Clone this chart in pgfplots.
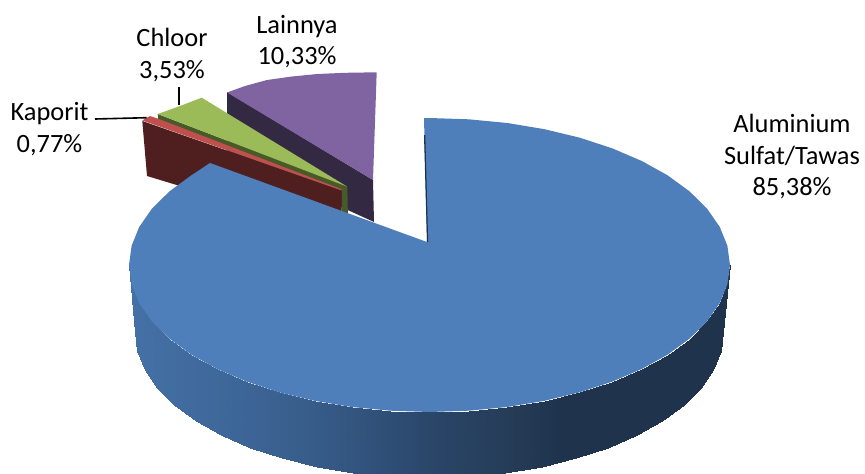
\documentclass[border=0pt]{standalone}
\usepackage{pgfplots}
\pgfplotsset{compat=1.18}
\usepackage{fontspec}
\setmainfont{Carlito}
\definecolor{blueTop}{RGB}{79,127,187}
\definecolor{blueDark}{RGB}{28,50,78}
\definecolor{redTop}{RGB}{192,80,77}
\definecolor{redSide}{RGB}{78,31,30}
\definecolor{greenTop}{RGB}{155,187,89}
\definecolor{greenSide}{RGB}{72,90,40}
\definecolor{purpleTop}{RGB}{128,100,162}
\definecolor{purpleSide}{RGB}{52,41,67}
\tikzset{lbl/.style={font=\fontsize{26.4}{31.5}\selectfont, align=center, text=black, inner sep=0pt}}
\begin{document}
\begin{tikzpicture}
\begin{axis}[
    scale only axis,
    width=865pt, height=474pt,
    xmin=0, xmax=865, ymin=0, ymax=474,
    y dir=reverse,
    axis lines=none, ticks=none,
    colormap={sidegrad}{
      rgb255(129pt)=(69,113,166);
      rgb255(200pt)=(64,106,158);
      rgb255(300pt)=(56,94,140);
      rgb255(380pt)=(48,80,120);
      rgb255(440pt)=(41,68,102);
      rgb255(500pt)=(38,62,90);
      rgb255(560pt)=(31,51,77);
      rgb255(730pt)=(31,51,77)
    },
    point meta min=129, point meta max=730,
  ]
  % Lainnya
  \addplot[fill=purpleSide, draw=none] coordinates {(227,92) (373,180) (374,222) (227,155)};
  \addplot[fill=purpleTop, draw=none] coordinates {
    (227,92.5) (245,86) (267,80) (292,76.5) (317,74) (345,72.8) (376.7,72.3) (373,180)};
  % Chloor
  \addplot[fill=greenSide, draw=none] coordinates {
    (157.7,114) (347.3,186.7) (348,220) (341.7,220) (341.7,190) (158.3,119.5)};
  \addplot[fill=greenTop, draw=none] coordinates {
    (157.7,114) (180,106) (201.7,97.7) (347.3,186.7)};
  % Kaporit
  \addplot[fill=redSide, draw=none] coordinates {(142.3,121) (341.7,190.5) (341.7,235) (147,176)};
  \addplot[fill=redTop, draw=none] coordinates {
    (142.3,120.5) (150,116) (158.3,118.8) (341.7,189.3) (341.7,190.5)};
  % Aluminium Sulfat/Tawas, side
  \addplot[surf, shader=interp, mesh/ordering=x varies, mesh/cols=25, point meta=x] table {
    x y
    129 265
    131.6 284.2
    139.2 303
    151.9 321.3
    169.3 338.5
    191.1 354.5
    217 368.9
    246.6 381.6
    279.3 392.3
    314.5 400.8
    351.7 407
    390.3 410.7
    429.5 412
    468.7 410.7
    507.3 407
    544.5 400.8
    579.8 392.3
    612.4 381.6
    642 368.9
    667.9 354.5
    689.7 338.5
    707.1 321.3
    719.8 303
    727.4 284.2
    730 265
    135 332
    137.5 351.1
    145 369.8
    157.4 387.9
    174.4 405
    195.8 420.9
    221.1 435.2
    250 447.8
    282 458.4
    316.5 466.9
    352.9 473
    390.6 476.7
    429 478
    467.4 476.7
    505.1 473
    541.5 466.9
    576 458.4
    608 447.8
    636.9 435.2
    662.2 420.9
    683.6 405
    700.6 387.9
    713 369.8
    720.5 351.1
    723 332
  };
  % Aluminium Sulfat/Tawas, top
  \addplot[fill=blueTop, draw=none] coordinates {
    (427,242) (424,118) (429.5,118) (468.7,119.3) (507.3,123) (544.5,129.2) (579.8,137.7)
    (612.4,148.4) (642,161.1) (667.9,175.5) (689.7,191.5) (707.1,208.7) (719.8,227)
    (727.4,245.8) (730,265) (727.4,284.2) (719.8,303) (707.1,321.3) (689.7,338.5)
    (667.9,354.5) (642,368.9) (612.4,381.6) (579.8,392.3) (544.5,400.8) (507.3,407)
    (468.7,410.7) (429.5,412) (390.3,410.7) (351.7,407) (314.5,400.8) (279.3,392.3)
    (246.6,381.6) (217,368.9) (191.1,354.5) (169.3,338.5) (151.9,321.3) (139.2,303)
    (131.6,284.2) (129,265) (131.6,245.8) (139.2,227) (151.9,208.7) (169.3,191.5)
    (191.1,175.5) (210,163)};
  \addplot[fill=blueDark, draw=none] coordinates {(424,135) (425.3,135) (428.2,242) (427,242)};
  % leader lines
  \addplot[black, line width=1.6pt] coordinates {(95,119) (146.7,117.7)};
  \addplot[black, line width=1.6pt] coordinates {(179,87.3) (179,105)};
  % labels
  \node[lbl] at (axis cs:297,41.5) {Lainnya\\10,33\%};
  \node[lbl] at (axis cs:172,55) {Chloor\\3,53\%};
  \node[lbl] at (axis cs:49.5,129) {Kaporit\\0,77\%};
  \node[lbl] at (axis cs:792,157) {Aluminium\\Sulfat/Tawas\\85,38\%};
\end{axis}
\path[use as bounding box] (current axis.south west) rectangle (current axis.north east);
\end{tikzpicture}
\end{document}
